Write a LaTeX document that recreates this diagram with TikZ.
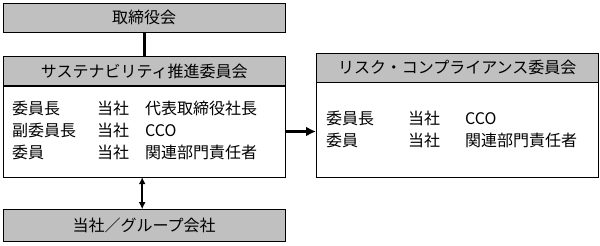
\documentclass[tikz,border=0pt]{standalone}
\usepackage{fontspec}
\setmainfont{Noto Sans CJK JP}
\usepackage{tikz}
\usetikzlibrary{shapes,arrows.meta,positioning,calc}
\definecolor{headgray}{RGB}{192,192,192}

\begin{document}
\begin{tikzpicture}[
    x=1pt, y=-1pt,
    font=\fontsize{16}{22}\selectfont,
    head/.style={rectangle, draw, fill=headgray, minimum width=282pt, minimum height=29pt, inner sep=0pt},
    body/.style={rectangle, draw, fill=white, minimum width=282pt, inner sep=0pt},
    members/.style={anchor=west, inner sep=0pt, align=left},
    link/.style={line width=3pt},
    arrow/.style={-{Latex[length=10pt,width=10pt]}, line width=3pt},
    dblarrow/.style={{Latex[length=7pt,width=7pt]}-{Latex[length=7pt,width=7pt]}, line width=2.5pt}
]
\useasboundingbox (0,0) rectangle (600,246);

% Left column
\node[head, anchor=north west] (board) at (3,3) {取締役会};
\node[head] (sus) [below=24pt of board] {サステナビリティ推進委員会};
\node[body, minimum height=91pt] (susBody) [below=0pt of sus] {};
\node[head, minimum height=32pt] (group) [below=32pt of susBody] {当社／グループ会社};

% Right committee
\node[head, anchor=north west] (risk) at (316,53) {リスク・コンプライアンス委員会};
\node[body, minimum height=95pt] (riskBody) [below=0pt of risk] {};

% Members
\node[members] (susList) at ($(susBody.west)+(9,1)$) {%
  \begin{tabular}{@{}p{85pt}@{}p{48pt}@{}l@{}}
  委員長 & 当社 & 代表取締役社長\\
  副委員長 & 当社 & CCO\\
  委員 & 当社 & 関連部門責任者
  \end{tabular}};
\node[members] (riskList) at ($(riskBody.west)+(10,1)$) {%
  \begin{tabular}{@{}p{82pt}@{}p{57pt}@{}l@{}}
  委員長 & 当社 & CCO\\
  委員 & 当社 & 関連部門責任者
  \end{tabular}};

% Connectors
\draw[link] (board) -- (sus);
\draw[dblarrow] ($(susBody.south)+(-2,0)$) -- ($(group.north)+(-2,0)$);
\draw[arrow] (susBody.east) -- (susBody.east -| riskBody.west);

\end{tikzpicture}
\end{document}
